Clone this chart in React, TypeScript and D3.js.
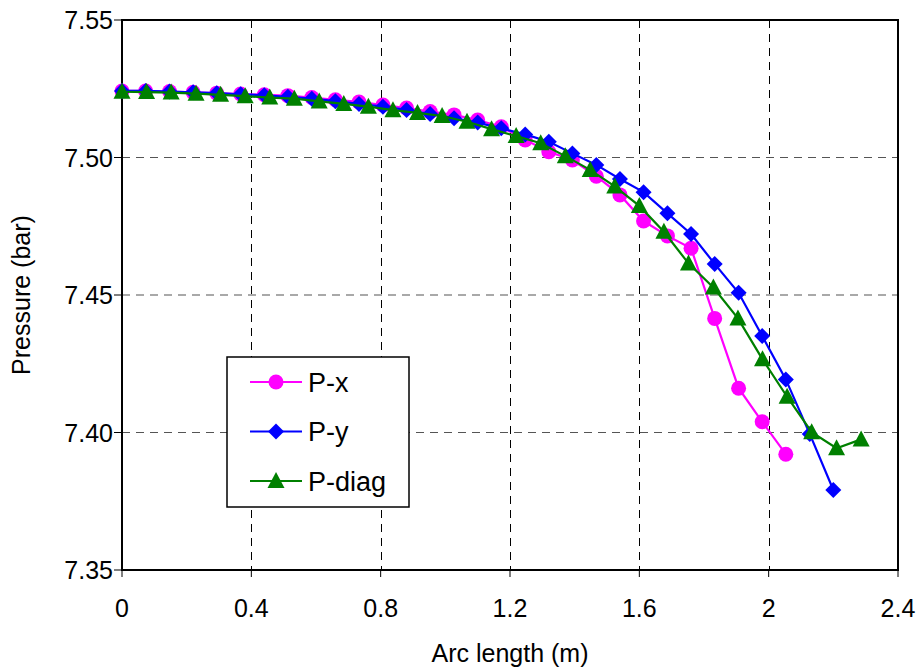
import React from "react";
import * as d3 from "d3";

const xGrid: number[] = [0, 0.073, 0.147, 0.22, 0.293, 0.367, 0.44, 0.513, 0.587, 0.66, 0.733, 0.807, 0.88, 0.953, 1.027, 1.1, 1.173, 1.247, 1.32, 1.393, 1.467, 1.54, 1.613, 1.687, 1.76, 1.833, 1.907, 1.98, 2.053, 2.127, 2.2];
const xDiag: number[] = [0, 0.076, 0.152, 0.229, 0.305, 0.381, 0.457, 0.533, 0.61, 0.686, 0.762, 0.838, 0.914, 0.99, 1.067, 1.143, 1.219, 1.295, 1.371, 1.448, 1.524, 1.6, 1.676, 1.752, 1.829, 1.905, 1.981, 2.057, 2.133, 2.21, 2.286];

const pX: number[] = [7.5242, 7.5242, 7.524, 7.5237, 7.5234, 7.5231, 7.5228, 7.5225, 7.5218, 7.521, 7.5202, 7.5191, 7.518, 7.5167, 7.5155, 7.5136, 7.5112, 7.5064, 7.5021, 7.4991, 7.4932, 7.4864, 7.4769, 7.4715, 7.467, 7.4415, 7.4161, 7.4039, 7.3921];
const pY: number[] = [7.5242, 7.5242, 7.524, 7.5237, 7.5234, 7.523, 7.5226, 7.5221, 7.5214, 7.5205, 7.5195, 7.5185, 7.5173, 7.5158, 7.5143, 7.5127, 7.5106, 7.5084, 7.5057, 7.5015, 7.4973, 7.4922, 7.4874, 7.4797, 7.4722, 7.4613, 7.4508, 7.4351, 7.4193, 7.3995, 7.3791];
const pDiag: number[] = [7.5239, 7.5238, 7.5236, 7.5232, 7.5228, 7.5223, 7.5218, 7.5214, 7.5204, 7.5195, 7.5185, 7.5172, 7.5162, 7.5151, 7.513, 7.5103, 7.5078, 7.5052, 7.5005, 7.4955, 7.4895, 7.4824, 7.473, 7.4615, 7.4527, 7.4415, 7.4266, 7.413, 7.4001, 7.3943, 7.3975];

const xTicks: number[] = [0, 0.4, 0.8, 1.2, 1.6, 2, 2.4];
const yTicks: number[] = [7.35, 7.4, 7.45, 7.5, 7.55];
const seriesNames: string[] = ["P-x", "P-y", "P-diag"];
const seriesColors: string[] = ["#FF00FF", "#0000FF", "#008000"];

const FONT = "'Liberation Sans', Arial, Helvetica, sans-serif";

function Marker({ kind, x, y, color }: { kind: number; x: number; y: number; color: string }) {
  if (kind === 0) return <circle cx={x} cy={y} r={7.5} fill={color} />;
  if (kind === 1)
    return <path d={`M${x},${y - 8}L${x + 8},${y}L${x},${y + 8}L${x - 8},${y}Z`} fill={color} />;
  return <path d={`M${x},${y - 9}L${x + 8.5},${y + 7}L${x - 8.5},${y + 7}Z`} fill={color} />;
}

export default function App() {
  const left = 122, right = 898, top = 20, bottom = 570;
  const x = d3.scaleLinear().domain([0, 2.4]).range([left, right]);
  const y = d3.scaleLinear().domain([7.35, 7.55]).range([bottom, top]);

  const series = [
    { xs: xGrid, ys: pX },
    { xs: xGrid, ys: pY },
    { xs: xDiag, ys: pDiag },
  ];
  const line = d3
    .line<[number, number]>()
    .x((d) => x(d[0]))
    .y((d) => y(d[1]));

  return (
    <svg
      width={919}
      height={667}
      style={{ position: "absolute", left: 0, top: 0, background: "#fff" }}
      fontFamily={FONT}
    >
      <rect x={0} y={0} width={919} height={667} fill="#fff" />
      {/* gridlines */}
      {xTicks.slice(1, -1).map((t) => (
        <line key={"gx" + t} x1={Math.round(x(t)) + 0.5} x2={Math.round(x(t)) + 0.5} y1={top} y2={bottom} stroke="#000" strokeWidth={1} strokeDasharray="8,6" />
      ))}
      {yTicks.slice(1, -1).map((t) => (
        <line key={"gy" + t} x1={left} x2={right} y1={y(t)} y2={y(t)} stroke="#555" strokeWidth={1.2} strokeDasharray="8,6" />
      ))}
      {/* frame */}
      <rect x={left} y={top} width={right - left} height={bottom - top} fill="none" stroke="#000" strokeWidth={2} />
      {/* ticks */}
      {xTicks.map((t) => (
        <g key={"tx" + t}>
          <line x1={x(t)} x2={x(t)} y1={bottom} y2={bottom + 7} stroke="#000" strokeWidth={1} />
          <text x={x(t)} y={bottom + 47} textAnchor="middle" fontSize={25} fill="#000">
            {String(t)}
          </text>
        </g>
      ))}
      {yTicks.map((t) => (
        <g key={"ty" + t}>
          <line x1={left - 8} x2={left} y1={y(t)} y2={y(t)} stroke="#000" strokeWidth={1} />
          <text x={left - 9} y={y(t) + 9} textAnchor="end" fontSize={25} fill="#000">
            {t.toFixed(2)}
          </text>
        </g>
      ))}
      <text x={(left + right) / 2} y={662} textAnchor="middle" fontSize={25} fill="#000">
        Arc length (m)
      </text>
      <text transform={`translate(30,${(top + bottom) / 2}) rotate(-90)`} textAnchor="middle" fontSize={25} fill="#000">
        Pressure (bar)
      </text>
      {/* series */}
      {series.map((s, i) => {
        const pts = s.ys.map((v, j) => [s.xs[j], v] as [number, number]);
        return (
          <g key={"s" + i}>
            <path d={line(pts) || ""} fill="none" stroke={seriesColors[i]} strokeWidth={2.2} />
            {pts.map((p, j) => (
              <Marker key={j} kind={i} x={x(p[0])} y={y(p[1])} color={seriesColors[i]} />
            ))}
          </g>
        );
      })}
      {/* legend */}
      <rect x={227} y={357} width={182} height={150} fill="#fff" stroke="#000" strokeWidth={1.5} />
      {seriesNames.map((n, i) => {
        const ly = 382 + i * 49.5;
        return (
          <g key={"l" + i}>
            <line x1={250} x2={302} y1={ly} y2={ly} stroke={seriesColors[i]} strokeWidth={2.2} />
            <Marker kind={i} x={276} y={ly} color={seriesColors[i]} />
            <text x={308} y={ly + 9.5} fontSize={27} fill="#000">
              {n}
            </text>
          </g>
        );
      })}
    </svg>
  );
}
